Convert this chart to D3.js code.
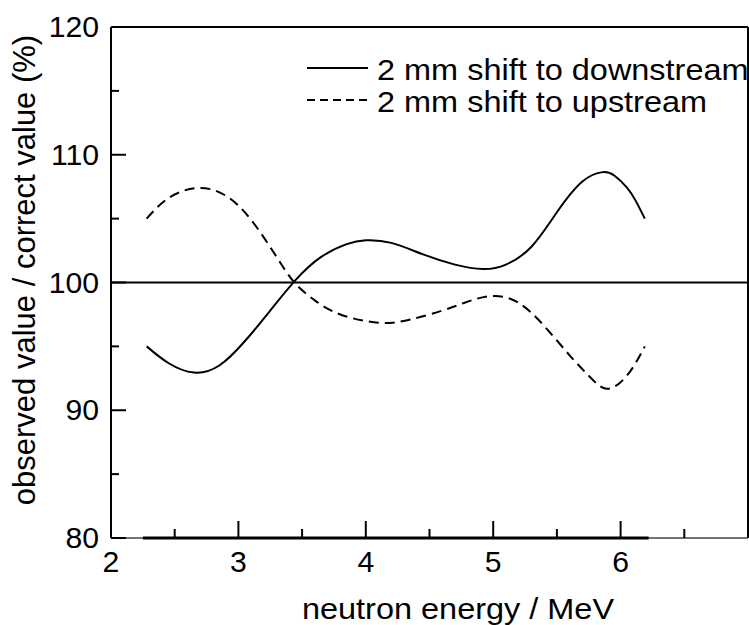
<!DOCTYPE html>
<html>
<head>
<meta charset="utf-8">
<script src="https://cdn.jsdelivr.net/npm/d3@7"></script>
<style>
  body { margin: 0; background: #fff; }
  text { font-family: "Liberation Sans", Arial, sans-serif; fill: #000; }
</style>
</head>
<body>
<div id="chart"></div>
<script>
// values
let energyDown = [2.28, 2.45, 2.65, 2.85, 3.05, 3.25, 3.45, 3.65, 3.85, 4.0, 4.2, 4.45, 4.7, 4.92, 5.1, 5.3, 5.5, 5.7, 5.86, 5.95, 6.05, 6.12, 6.19];
let ratioDown  = [95.0, 93.7, 92.95, 93.5, 95.4, 97.8, 100.2, 102.0, 103.0, 103.3, 103.1, 102.2, 101.4, 101.05, 101.4, 102.8, 105.5, 107.9, 108.64, 108.37, 107.43, 106.37, 105.0];

let energyUp = [2.28, 2.45, 2.68, 2.9, 3.1, 3.3, 3.44, 3.6, 3.8, 4.1, 4.35, 4.6, 4.8, 5.0, 5.2, 5.4, 5.6, 5.75, 5.88, 6.0, 6.1, 6.19];
let ratioUp  = [105.0, 106.6, 107.4, 106.8, 104.9, 102.0, 100.0, 98.6, 97.5, 96.85, 97.1, 97.8, 98.5, 98.95, 98.4, 96.6, 94.3, 92.7, 91.7, 92.2, 93.4, 95.0];

// flat line lying on the bottom axis
let energyBase = [2.25, 6.22];
let ratioBase  = [80, 80];

let refValue = 100;

let xTicks = [2, 3, 4, 5, 6];
let xMinor = [2.5, 3.5, 4.5, 5.5, 6.5];
let yTicks = [80, 90, 100, 110, 120];
let yMinor = [85, 95, 105, 115];

let legendLabels = ["2 mm shift to downstream", "2 mm shift to upstream"];

const width = 749, height = 625;
const margin = {left: 111, top: 27, right: 1, bottom: 87};

let svg = d3.select("#chart").append("svg")
    .attr("width", width)
    .attr("height", height);

let x = d3.scaleLinear().domain([2, 7]).range([margin.left, width - margin.right]);
let y = d3.scaleLinear().domain([80, 120]).range([height - margin.bottom, margin.top]);

// helper for horizontally stretched text
function label(txt, px, py, size, anchor, sx) {
    svg.append("text")
        .attr("transform", "translate(" + px + "," + py + ") scale(" + sx + ",1)")
        .attr("text-anchor", anchor)
        .style("font-size", size + "px")
        .text(txt);
}

// frame
svg.append("line").attr("x1", x(2)).attr("x2", x(7)).attr("y1", y(120)).attr("y2", y(120))
    .attr("stroke", "#000").attr("stroke-width", 2);
svg.append("line").attr("x1", x(7)).attr("x2", x(7)).attr("y1", y(120)).attr("y2", y(80))
    .attr("stroke", "#000").attr("stroke-width", 2);
svg.append("line").attr("x1", x(2)).attr("x2", x(2)).attr("y1", y(120)).attr("y2", y(80))
    .attr("stroke", "#000").attr("stroke-width", 2);
svg.append("line").attr("x1", x(2)).attr("x2", x(7)).attr("y1", y(80)).attr("y2", y(80))
    .attr("stroke", "#444").attr("stroke-width", 1.3);

// y ticks (inward)
let g = svg.append("g").attr("stroke", "#000").attr("stroke-width", 2);
g.selectAll(".ymaj").data(yTicks).enter().append("line")
    .attr("x1", x(2)).attr("x2", x(2) + 15)
    .attr("y1", d => y(d)).attr("y2", d => y(d));
g.selectAll(".ymin").data(yMinor).enter().append("line")
    .attr("x1", x(2)).attr("x2", x(2) + 8)
    .attr("y1", d => y(d)).attr("y2", d => y(d));
// x ticks (inward)
g.selectAll(".xmaj").data(xTicks.slice(1)).enter().append("line")
    .attr("x1", d => x(d)).attr("x2", d => x(d))
    .attr("y1", y(80)).attr("y2", y(80) - 17);
g.selectAll(".xmin").data(xMinor).enter().append("line")
    .attr("x1", d => x(d)).attr("x2", d => x(d))
    .attr("y1", y(80)).attr("y2", y(80) - 9);

// tick labels
yTicks.forEach(d => label(d, 99, y(d) + 10, 29, "end", 1.04));
xTicks.forEach(d => label(d, x(d), 572, 29, "middle", 1.04));

// axis titles
label("neutron energy / MeV", 458, 619, 29, "middle", 1.12);
svg.append("text")
    .attr("transform", "translate(35,270) rotate(-90)")
    .attr("text-anchor", "middle")
    .style("font-size", "31px")
    .text("observed value / correct value (%)");

// reference line at 100
svg.append("line")
    .attr("x1", x(2)).attr("x2", x(7))
    .attr("y1", y(refValue)).attr("y2", y(refValue))
    .attr("stroke", "#000").attr("stroke-width", 2);

let line = d3.line()
    .x(d => x(d[0]))
    .y(d => y(d[1]))
    .curve(d3.curveNatural);

svg.append("path")
    .datum(d3.zip(energyBase, ratioBase))
    .attr("d", line)
    .attr("fill", "none").attr("stroke", "#000").attr("stroke-width", 3);

svg.append("path")
    .datum(d3.zip(energyDown, ratioDown))
    .attr("d", line)
    .attr("fill", "none").attr("stroke", "#000").attr("stroke-width", 2);

svg.append("path")
    .datum(d3.zip(energyUp, ratioUp))
    .attr("d", line)
    .attr("fill", "none").attr("stroke", "#000").attr("stroke-width", 2)
    .attr("stroke-dasharray", "10,6");

// legend
let dashes = [null, "8,5"];
legendLabels.forEach((t, i) => {
    let ly = 68 + i * 32;
    svg.append("line")
        .attr("x1", 307).attr("x2", 368)
        .attr("y1", ly).attr("y2", ly)
        .attr("stroke", "#000").attr("stroke-width", 2)
        .attr("stroke-dasharray", dashes[i]);
    label(t, 377, ly + 12, 29, "start", 1.12);
});
</script>
</body>
</html>
